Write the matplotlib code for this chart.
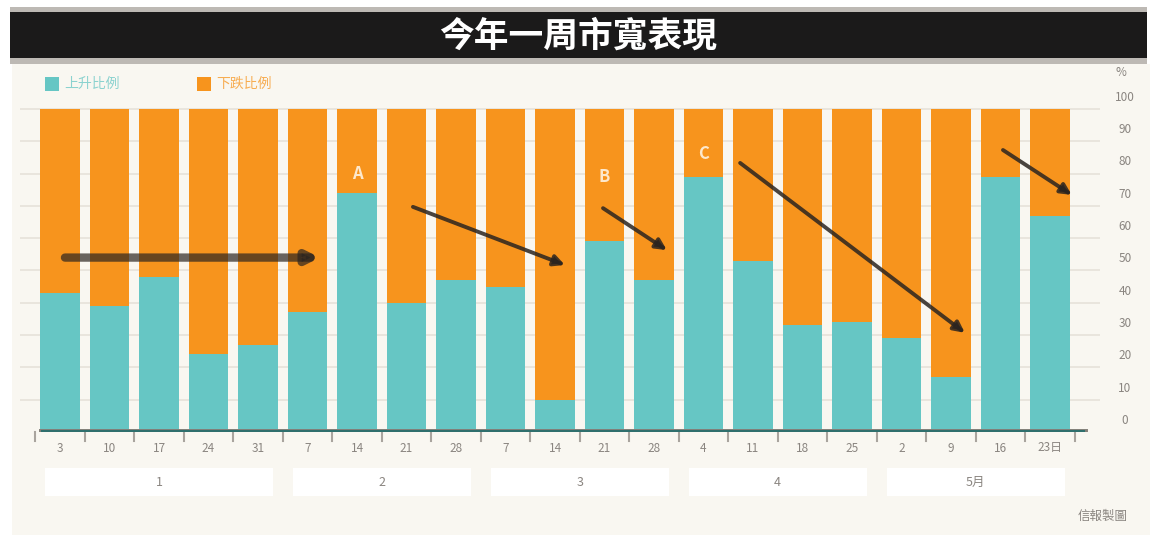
import matplotlib
matplotlib.use("Agg")
import matplotlib.pyplot as plt
from matplotlib.patches import Rectangle
import matplotlib.transforms as mtransforms

plt.rcParams['font.family'] = ['Noto Sans CJK TC', 'DejaVu Sans']

# ---------------- data ----------------
title = "今年一周市寬表現"
dates = ["3", "10", "17", "24", "31", "7", "14", "21", "28", "7", "14", "21", "28",
         "4", "11", "18", "25", "2", "9", "16", "23日"]
months = ["1", "2", "3", "4", "5月"]
month_first = [0, 5, 9, 13, 17]
month_last = [4, 8, 12, 16, 20]
up_pct = [43, 39, 48, 24, 27, 37, 74, 40, 47, 45, 10, 59, 47, 79, 53, 33, 34, 29, 17, 79, 67]
down_pct = [57, 61, 52, 76, 73, 63, 26, 60, 53, 55, 90, 41, 53, 21, 47, 67, 66, 71, 83, 21, 33]
legend_labels = ["上升比例", "下跌比例"]
y_ticks = [0, 10, 20, 30, 40, 50, 60, 70, 80, 90, 100]
notes = ["A", "B", "C"]
note_bar = [6, 11, 13]
note_y = [80, 79, 86]
arrow_start = [(0.1, 54), (7.13, 69.7), (10.97, 69.3), (13.74, 83.3), (19.05, 87.3)]
arrow_end = [(5.25, 54), (10.2, 51.7), (12.26, 56.3), (18.28, 30.7), (20.44, 73.4)]
source = "信報製圖"

TEAL = "#66c6c4"
ORANGE = "#f7941d"
CREAM = "#f9f7f1"
GRID = "#e6e2da"
TXT = "#8a8580"

W, H = 1157, 540
fig = plt.figure(figsize=(W / 100, H / 100), dpi=100, facecolor="white")

def fx(px):
    return px / W

def fy(py):
    return 1 - py / H

# background panel
fig.patches.append(Rectangle((fx(12), fy(535)), fx(1150) - fx(12), fy(64) - fy(535),
                             transform=fig.transFigure, facecolor=CREAM, edgecolor="none", zorder=-2))
# title band
fig.patches.append(Rectangle((fx(10), fy(64)), fx(1147) - fx(10), fy(7) - fy(64),
                             transform=fig.transFigure, facecolor="#bdb9b4", edgecolor="none", zorder=-1))
fig.patches.append(Rectangle((fx(10), fy(58)), fx(1147) - fx(10), fy(12) - fy(58),
                             transform=fig.transFigure, facecolor="#1b1a1a", edgecolor="none", zorder=-1))
fig.text(fx(578), fy(36), title, color="white", fontsize=25, fontweight="bold",
         ha="center", va="center", zorder=3)

# legend
for i, (lab, col) in enumerate(zip(legend_labels, [TEAL, ORANGE])):
    x0 = [45, 197][i]
    fig.patches.append(Rectangle((fx(x0), fy(91)), fx(14), fy(77) - fy(91),
                                 transform=fig.transFigure, facecolor=col, edgecolor="none", zorder=3))
    fig.text(fx(x0 + 19), fy(84), lab, color=col, alpha=0.75, fontsize=10,
             ha="left", va="center", zorder=3)

# main axes: bar i centre at 60 + 49.5 i px ; 0% at y=432, 100% at y=109
pitch = 49.5
ax_left, ax_right = 20, 1100
ax_bottom, ax_top = 432, 100
ax = fig.add_axes([fx(ax_left), fy(ax_bottom), fx(ax_right - ax_left), fy(ax_top) - fy(ax_bottom)])
ax.set_zorder(5)
ax.set_facecolor("none")
ax.set_xlim((ax_left - 60) / pitch, (ax_right - 60) / pitch)
ax.set_ylim(0, (ax_bottom - ax_top) / 3.23)

for v in y_ticks[1:]:
    ax.axhline(v, color=GRID, lw=1.2, zorder=0.5)

x = list(range(len(dates)))
ax.bar(x, up_pct, width=0.8, color=TEAL, zorder=2)
ax.bar(x, down_pct, bottom=up_pct, width=0.8, color=ORANGE, zorder=2)

for v in y_ticks:
    ax.text(1.023, v + 3.6, str(v), transform=ax.get_yaxis_transform(),
            ha="center", va="center", fontsize=8.5, color=TXT)
ax.text(1.019, 1.0 + 27 / 332, "%", transform=ax.transAxes, ha="center", va="center",
        fontsize=8.5, color=TXT, clip_on=False)

# baseline and ticks
ax.axhline(0, color="#858079", lw=5, zorder=3, xmin=0.02, xmax=0.985)
ax.axhline(0.4, color="#2f6f6d", lw=1.5, zorder=3.5, xmin=0.02, xmax=0.985)
trans = mtransforms.blended_transform_factory(ax.transData, fig.transFigure)
for i in range(len(dates) + 1):
    xb = i - 0.5
    ax.plot([xb, xb], [fy(432), fy(441)], transform=trans, color="#a9a49e", lw=1.5,
            clip_on=False, zorder=3)
for i, d in enumerate(dates):
    ax.text(i, fy(448), d, transform=trans, ha="center", va="center", fontsize=8.5,
            color=TXT)

# month boxes
for m, a, b in zip(months, month_first, month_last):
    fig.patches.append(Rectangle((a - 0.3, fy(496)), (b - a) + 0.6, fy(468) - fy(496),
                                 transform=trans, facecolor="white", edgecolor="none", zorder=-1))
    ax.text((a + b) / 2, fy(482), m, transform=trans, ha="center", va="center",
            fontsize=9, color=TXT)

# annotations
for t, b, yv in zip(notes, note_bar, note_y):
    ax.text(b, yv, t, ha="center", va="center", color="#fde8cc", fontsize=12,
            fontweight="bold", zorder=4)

for k, (s, e) in enumerate(zip(arrow_start, arrow_end)):
    lw = 6 if k == 0 else 2.8
    ax.annotate("", xy=e, xytext=s,
                arrowprops=dict(arrowstyle="-|>", color="#2a2420", lw=lw, alpha=0.7 if k == 0 else 0.85,
                                mutation_scale=16, shrinkA=0, shrinkB=0),
                zorder=5)

for sp in ax.spines.values():
    sp.set_visible(False)
ax.set_xticks([])
ax.set_yticks([])

fig.text(fx(1128), fy(516), source, ha="right", va="center", fontsize=9, color=TXT)

fig.savefig("out.png", dpi=100, facecolor="white")
